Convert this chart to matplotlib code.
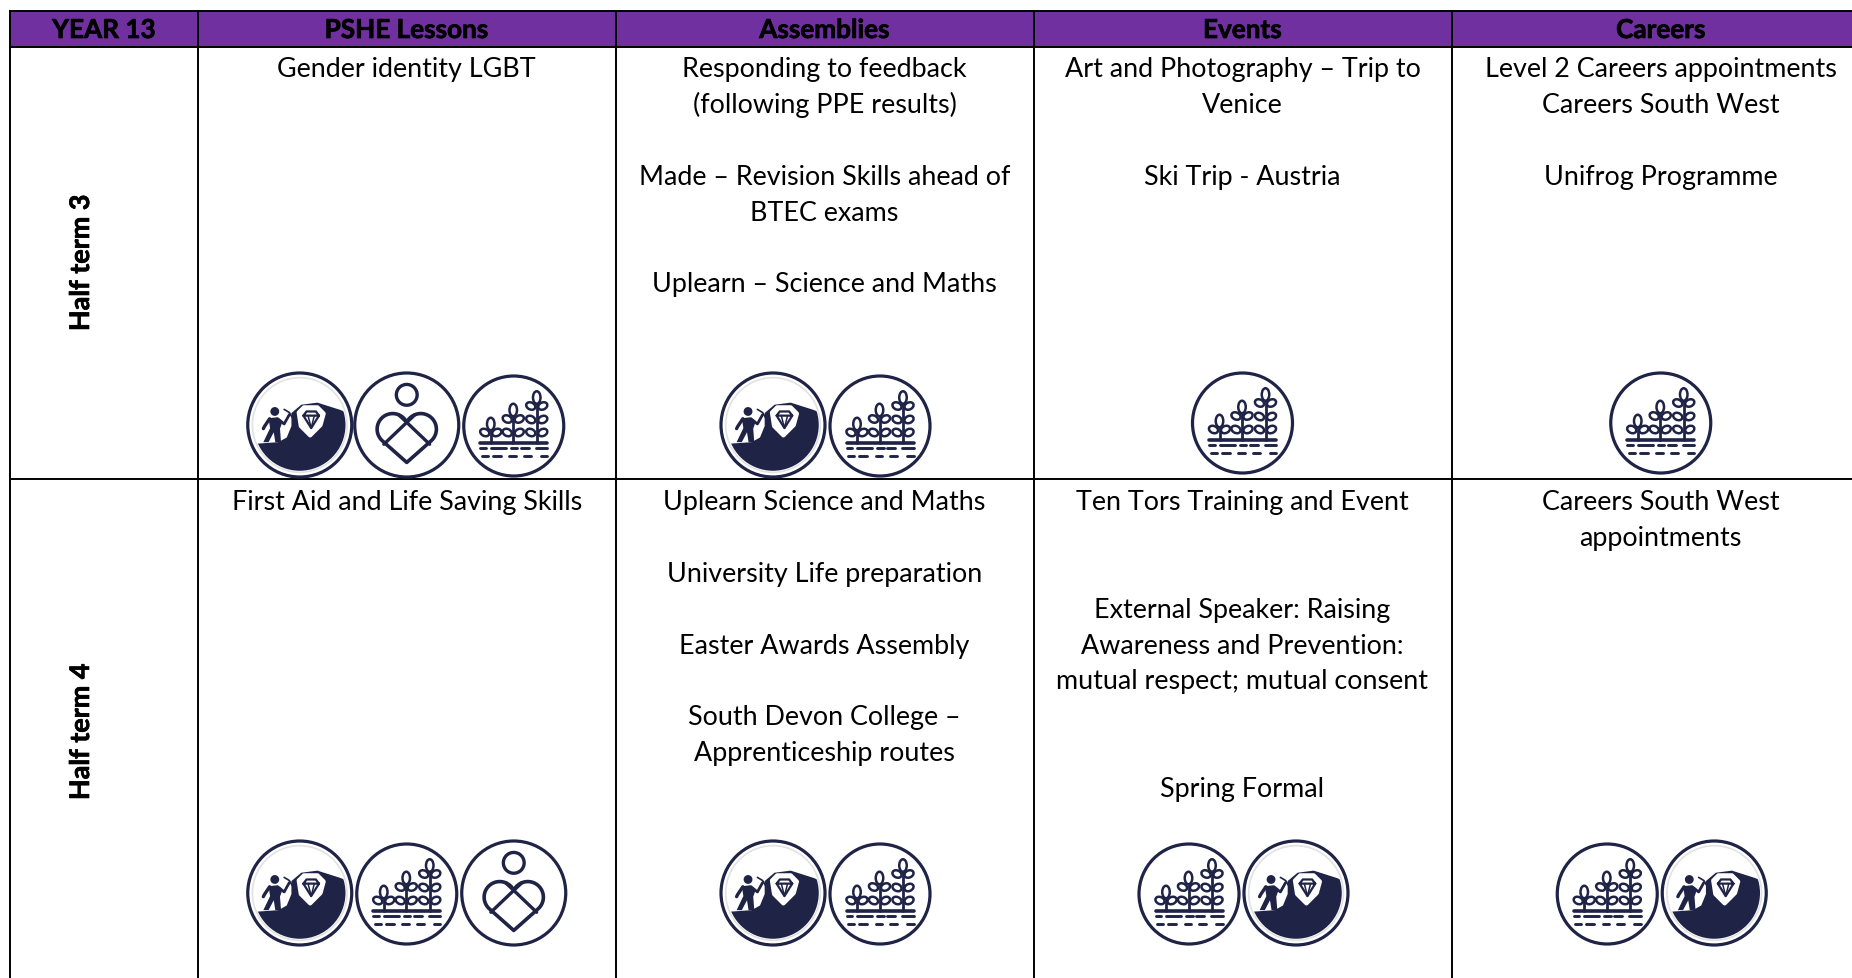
import matplotlib
matplotlib.use("Agg")
import matplotlib.pyplot as plt
import matplotlib.patheffects as pe
import numpy as np
from matplotlib.patches import Circle, Ellipse, Polygon, Rectangle

plt.rcParams['font.family'] = ['Lato', 'DejaVu Sans']

W, H = 1852, 979
PURPLE = '#7030A0'
NAVY = '#1F2346'
FS = 19.4
FS_HEAD = 18.8

# table content
headers = ['YEAR 13', 'PSHE Lessons', 'Assemblies', 'Events', 'Careers']
row_labels = ['Half term 3', 'Half term 4']

# each cell is a list of text lines, "" is an empty line
ht3_pshe = ['Gender identity LGBT']
ht3_assemblies = ['Responding to feedback', '(following PPE results)', '',
                  'Made – Revision Skills ahead of', 'BTEC exams', '',
                  'Uplearn – Science and Maths']
ht3_events = ['Art and Photography – Trip to', 'Venice', '', 'Ski Trip - Austria']
ht3_careers = ['Level 2 Careers appointments', 'Careers South West', '', 'Unifrog Programme']
ht4_pshe = ['First Aid and Life Saving Skills']
ht4_assemblies = ['Uplearn Science and Maths', '', 'University Life preparation', '',
                  'Easter Awards Assembly', '', 'South Devon College –',
                  'Apprenticeship routes']
ht4_events = ['Ten Tors Training and Event', '', '', 'External Speaker: Raising',
              'Awareness and Prevention:', 'mutual respect; mutual consent', '', '',
              'Spring Formal']
ht4_careers = ['Careers South West', 'appointments']

# icons per cell
ht3_icons = [['miner', 'heart', 'plant'], ['miner', 'plant'], ['plant'], ['plant']]
ht4_icons = [['miner', 'plant', 'heart'], ['miner', 'plant'], ['plant', 'miner'], ['plant', 'miner']]

# layout in pixels
col_x = [10, 198, 615.5, 1033.5, 1451.5, 1870]
head_top, head_bot = 12, 48
row_line = 480
row_first_line = [69.5, 502.5]
line_h = 35.9
icon_y = [426, 894]
icon_step = 107
icon_shift = [0, 2, 0, 0]
single_icon_lift = 3
label_y = [264, 733]
miner_r, heart_r, plant_r = 52, 52, 50

fig = plt.figure(figsize=(W / 100, H / 100), dpi=100)
ax = fig.add_axes([0, 0, 1, 1])
ax.set_xlim(0, W)
ax.set_ylim(H, 0)
ax.axis('off')


def to_px(cx, cy, r, pts):
    return [(cx + r * x, cy - r * y) for x, y in pts]


def poly(cx, cy, r, pts, fc, ec='none', lw=0, z=5, closed=True):
    p = Polygon(to_px(cx, cy, r, pts), closed=closed, fc=fc, ec=ec, lw=lw, zorder=z,
                joinstyle='round')
    ax.add_patch(p)
    return p


def stroke(cx, cy, r, pts, lw=2.2, color=NAVY, z=6):
    xy = to_px(cx, cy, r, pts)
    ax.plot([a for a, b in xy], [b for a, b in xy], color=color, lw=lw, zorder=z,
            solid_capstyle='round', solid_joinstyle='round')


def ring(cx, cy, r, lw=2.3):
    ax.add_patch(Circle((cx, cy), r, fc='white', ec=NAVY, lw=lw, zorder=4))


def draw_miner(cx, cy):
    r = miner_r
    ring(cx, cy, r)
    ax.add_patch(Circle((cx, cy), r * 0.91, fc='none', ec='#e2e2e2', lw=1.2, zorder=5))
    hill = poly(cx, cy, r, [(-0.84, -0.36), (-0.41, -0.33), (-0.25, -0.24), (-0.16, -0.02),
                            (-0.16, 0.23), (0.03, 0.39), (0.34, 0.43), (0.78, 0.29),
                            (1, 0.2), (1, -1), (-1, -1), (-1, -0.36)], NAVY)
    hill.set_clip_path(Circle((cx, cy), r * 0.88, transform=ax.transData))
    # gem badge
    poly(cx, cy, r, [(-0.02, 0.24), (0.08, 0.34), (0.34, 0.34), (0.46, 0.22), (0.4, 0.0),
                     (0.2, -0.2), (0.02, -0.02)], 'white', ec='white', lw=3, z=6)
    stroke(cx, cy, r, [(0.07, 0.18), (0.13, 0.26), (0.31, 0.26), (0.37, 0.18), (0.22, -0.06),
                       (0.07, 0.18), (0.37, 0.18)], lw=1.6, z=7)
    stroke(cx, cy, r, [(0.16, 0.18), (0.22, -0.06), (0.28, 0.18)], lw=1.1, z=7)
    # digger
    ax.add_patch(Circle((cx - 0.48 * r, cy - 0.26 * r), 0.085 * r, fc=NAVY, ec='none', zorder=7))
    poly(cx, cy, r, [(-0.6, 0.13), (-0.42, 0.15), (-0.33, 0.07), (-0.38, -0.07), (-0.36, -0.33),
                     (-0.47, -0.33), (-0.5, -0.14), (-0.6, -0.33), (-0.7, -0.33), (-0.57, -0.06)],
         NAVY, z=7)
    stroke(cx, cy, r, [(-0.58, 0.12), (-0.68, -0.03), (-0.7, -0.07)], lw=2.4, z=7)
    stroke(cx, cy, r, [(-0.4, 0.1), (-0.3, 0.02), (-0.2, 0.2)], lw=2, z=7)
    stroke(cx, cy, r, [(-0.3, 0.3), (-0.2, 0.24), (-0.13, 0.12)], lw=1.2, z=7)


def draw_heart(cx, cy):
    r = heart_r
    ring(cx, cy, r)
    ax.add_patch(Circle((cx, cy - 0.58 * r), 0.2 * r, fc='none', ec=NAVY, lw=2.4, zorder=6))
    # lobes are arcs, then straight sides down to the tip
    a = np.radians(np.linspace(25.7, 227.8, 30))
    left = list(zip(-0.27 + 0.3 * np.cos(a), -0.08 + 0.3 * np.sin(a)))
    right = [(-x, y) for x, y in left][::-1]
    stroke(cx, cy, r, left + [(0, -0.72)] + right, lw=2.6)
    stroke(cx, cy, r, [(-0.44, -0.37), (0, 0.05), (0.16, 0.2)], lw=2.4)
    stroke(cx, cy, r, [(0.44, -0.37), (0, 0.05), (-0.16, 0.2)], lw=2.4)


def leaf(cx, cy, r, x, y, w, h, angle):
    ax.add_patch(Ellipse((cx + x * r, cy - y * r), w * r, h * r, angle=angle, fc='white', ec=NAVY,
                         lw=1.8, zorder=7))


def draw_plant(cx, cy):
    r = plant_r
    cy = cy + 1
    ring(cx, cy, r)
    stroke(cx, cy, r, [(-0.67, -0.33), (0.67, -0.33)], lw=2.6)
    # stem x, bud y, leaf pair heights
    for sx, bud, pairs in [(-0.46, 0.04, [-0.13]), (-0.01, 0.32, [0.14, -0.13]),
                           (0.46, 0.57, [0.4, 0.13, -0.13])]:
        stroke(cx, cy, r, [(sx, -0.33), (sx, bud)], lw=2)
        for ly in pairs:
            leaf(cx, cy, r, sx - 0.12, ly, 0.19, 0.14, 25)
            leaf(cx, cy, r, sx + 0.12, ly, 0.19, 0.14, -25)
        leaf(cx, cy, r, sx, bud, 0.15, 0.25, 0)
    for y, dashes in [(-0.44, [(-0.67, -0.56), (-0.46, -0.16), (-0.06, 0.07), (0.14, 0.3), (0.44, 0.67)]),
                      (-0.59, [(-0.64, -0.52), (-0.42, -0.26), (-0.09, 0.04), (0.2, 0.34), (0.54, 0.67)])]:
        for a, b in dashes:
            stroke(cx, cy, r, [(a, y), (b, y)], lw=2.1)


icon_fn = {'miner': draw_miner, 'heart': draw_heart, 'plant': draw_plant}
bold_fx = [pe.withStroke(linewidth=0.5, foreground='black')]

# header band
ax.add_patch(Rectangle((col_x[0], head_top), W - col_x[0] + 10, head_bot - head_top, fc=PURPLE, ec='none', zorder=1))

# grid lines
for x in col_x[:-1]:
    ax.plot([x, x], [head_top, H + 5], color='black', lw=1.4, zorder=2)
for y in [head_top, head_bot, row_line]:
    ax.plot([col_x[0], W + 5], [y, y], color='black', lw=1.4, zorder=2)

for i, h in enumerate(headers):
    ax.text((col_x[i] + col_x[i + 1]) / 2, 31, h, ha='center', va='center',
            fontsize=FS_HEAD, fontweight='bold', color='black', path_effects=bold_fx)

for lab, y in zip(row_labels, label_y):
    ax.text(81, y, lab, rotation=90, ha='center', va='center', fontsize=FS, fontweight='bold',
            color='black', path_effects=bold_fx)

rows = [[ht3_pshe, ht3_assemblies, ht3_events, ht3_careers],
        [ht4_pshe, ht4_assemblies, ht4_events, ht4_careers]]
for r, cells in enumerate(rows):
    for c, lines in enumerate(cells):
        xc = (col_x[c + 1] + col_x[c + 2]) / 2
        for j, t in enumerate(lines):
            ax.text(xc, row_first_line[r] + j * line_h, t, ha='center', va='center', fontsize=FS,
                    color='black')

for r, icons in enumerate([ht3_icons, ht4_icons]):
    for c, names in enumerate(icons):
        xc = (col_x[c + 1] + col_x[c + 2]) / 2 + icon_shift[c]
        lift = single_icon_lift if len(names) == 1 else 0
        for k, name in enumerate(names):
            x = xc + (k - (len(names) - 1) / 2) * icon_step
            icon_fn[name](x, icon_y[r] - lift)

fig.savefig('out.png', dpi=100)
